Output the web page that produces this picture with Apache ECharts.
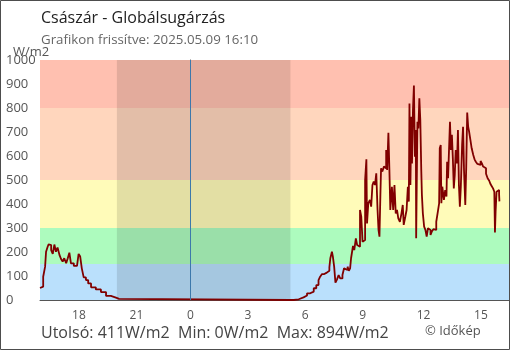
<!DOCTYPE html>
<html>
<head>
<meta charset="utf-8">
<script src="https://cdn.jsdelivr.net/npm/echarts@6/dist/echarts.min.js"></script>
<style>
  html, body { margin: 0; padding: 0; background: #fff; }
  #chart { width: 510px; height: 350px; }
</style>
</head>
<body>
<div id="chart"></div>
<script>
// Globális sugárzás, Császár — utolsó 24 óra (W/m2)
const prevDayTimes = ["16:10","16:16","16:20","16:26","16:29","16:34","16:37","16:40","16:45","16:50",
  "16:55","17:00","17:05","17:11","17:16","17:21","17:26","17:32","17:37","17:42",
  "17:47","17:56","18:06","18:11","18:16","18:21","18:27","18:34","18:41","18:50",
  "19:05","19:21","19:37","19:52","20:08","20:18","20:20"];
const prevDayValues = [50,56,97,139,201,222,232,229,208,192,
  231,201,219,188,171,160,174,153,174,197,
  153,142,146,192,181,132,94,83,69,53,
  44,33,17,10,5,3,0];

const todayTimes = ["05:15","05:25","05:41","05:56","06:07","06:17","06:28","06:36","06:43","06:48",
  "06:54","07:01","07:09","07:17","07:20","07:25","07:28","07:32","07:36","07:41",
  "07:46","07:51","07:58","08:03","08:09","08:14","08:18","08:22","08:25","08:31",
  "08:35","08:40","08:44","08:49","08:53","08:57","09:01","09:06","09:09","09:13",
  "09:15","09:19","09:24","09:28","09:32","09:36","09:40","09:44","09:48","09:51",
  "09:54","09:57","09:59","10:03","10:08","10:12","10:15","10:18","10:22","10:25",
  "10:28","10:33","10:37","10:41","10:45","10:49","10:53","10:58","11:03","11:07",
  "11:10","11:15","11:19","11:23","11:26","11:28","11:31","11:34","11:36","11:39",
  "11:42","11:45","11:48","11:49","11:53","11:56","11:59","12:02","12:05","12:07",
  "12:10","12:14","12:18","12:22","12:26","12:30","12:34","12:38","12:43","12:47",
  "12:52","12:57","13:01","13:03","13:06","13:08","13:11","13:16","13:20","13:24",
  "13:26","13:29","13:33","13:35","13:38","13:41","13:44","13:47","13:50","13:53",
  "13:57","14:00","14:03","14:06","14:09","14:13","14:16","14:19","14:23","14:26",
  "14:29","14:32","14:35","14:39","14:43","14:48","14:52","14:56","15:01","15:06",
  "15:11","15:15","15:19","15:24","15:28","15:33","15:38","15:42","15:46","15:50",
  "15:54","15:56","15:58","16:01","16:05","16:09","16:10"];
const todayValues = [0,3,11,19,28,35,49,62,83,97,
  108,114,122,136,174,201,181,139,72,86,
  104,90,104,132,125,139,122,132,174,225,
  208,257,229,222,375,347,243,250,500,586,
  319,403,417,389,479,493,479,528,375,292,
  264,444,549,535,556,549,625,542,697,549,
  375,472,375,479,361,375,340,326,361,396,
  313,347,375,472,410,819,479,764,569,792,
  894,597,708,257,743,715,840,750,542,438,
  361,306,292,264,299,292,271,285,295,292,
  326,368,403,632,646,403,472,417,458,431,
  576,507,500,743,625,688,590,465,521,625,
  569,708,479,389,472,646,722,542,396,556,
  781,722,701,667,632,604,586,576,567,563,
  579,569,556,549,526,507,497,483,474,465,
  451,281,368,451,458,438,411];

const xTickHours = [-6, -3, 0, 3, 6, 9, 12, 15];

// Háttérsávok (W/m2 tartományok)
const bandLimits = [[0, 150], [150, 300], [300, 500], [500, 800], [800, 1000]];
const bandColors = ['#bae0fc', '#adfbbe', '#fffbb9', '#ffd6bd', '#ffc0b0'];

const nightFrom = "20:11";   // napnyugta (előző nap)
const nightTo = "05:15";     // napkelte

const title = 'Császár - Globálsugárzás';
const subtitle = 'Grafikon frissítve: 2025.05.09 16:10';
const unitText = 'W/m2';
const summaryText = 'Utolsó: 411W/m2  Min: 0W/m2  Max: 894W/m2';
const creditText = '© Időkép';

const toHours = (t) => { const [h, m] = t.split(':').map(Number); return h + m / 60; };

const seriesData = [];
prevDayTimes.forEach((t, i) => seriesData.push([toHours(t) - 24, prevDayValues[i]]));
todayTimes.forEach((t, i) => seriesData.push([toHours(t), todayValues[i]]));

const xMin = toHours("16:10") - 24;
const xMax = toHours("16:40");

const axisColor = '#555';
const font = '"Open Sans", "Noto Sans", sans-serif';

const chart = echarts.init(document.getElementById('chart'), null, { renderer: 'canvas' });

const baseX = { type: 'value', min: xMin, max: xMax, splitLine: { show: false } };
const baseY = { type: 'value', min: 0, max: 1000, interval: 100, splitLine: { show: false } };

chart.setOption({
  animation: false,
  textStyle: { fontFamily: font },
  grid: { left: 40, top: 60, width: 469, height: 240 },
  xAxis: [
    Object.assign({}, baseX, {
      axisLine: { show: true, lineStyle: { color: axisColor, width: 1 } },
      axisTick: { show: true, inside: true, length: 7, customValues: xTickHours, lineStyle: { color: axisColor } },
      axisLabel: {
        show: true, customValues: xTickHours, margin: 10, fontSize: 12, color: '#555',
        fontFamily: font, align: 'left', padding: [0, 0, 0, -3],
        formatter: (v) => String(((Math.round(v) % 24) + 24) % 24)
      }
    }),
    Object.assign({}, baseX, {
      axisLine: { show: false },
      axisTick: { show: true, inside: false, length: 7, customValues: [xMin].concat(xTickHours), lineStyle: { color: axisColor } },
      axisLabel: { show: false }
    })
  ],
  yAxis: [
    Object.assign({}, baseY, {
      axisLine: { show: true, lineStyle: { color: axisColor, width: 1 } },
      axisTick: { show: true, inside: true, length: 6, lineStyle: { color: axisColor } },
      axisLabel: {
        show: true, align: 'left', margin: 34, fontSize: 13, color: '#555', fontFamily: font,
        formatter: (v) => String(v)
      }
    }),
    Object.assign({}, baseY, {
      axisLine: { show: false },
      axisTick: { show: true, inside: false, length: 6, lineStyle: { color: axisColor } },
      axisLabel: { show: false }
    })
  ],
  series: [
    {
      name: 'bands', type: 'line', data: [], z: 1, silent: true,
      markArea: {
        silent: true,
        data: bandLimits.map((b, i) => [
          { yAxis: b[0], itemStyle: { color: bandColors[i] } },
          { yAxis: b[1] }
        ])
      }
    },
    {
      name: 'night', type: 'line', data: [], z: 2, silent: true,
      markArea: {
        silent: true,
        itemStyle: { color: 'rgba(0,0,0,0.11)' },
        data: [[{ xAxis: toHours(nightFrom) - 24 }, { xAxis: toHours(nightTo) }]]
      },
      markLine: {
        silent: true, symbol: 'none', label: { show: false },
        lineStyle: { color: '#3c78ab', width: 1, type: 'solid' },
        data: [{ xAxis: 0 }]
      }
    },
    {
      name: 'Globálsugárzás', type: 'line', data: seriesData, z: 3,
      step: 'end', showSymbol: false, symbol: 'none',
      lineStyle: { color: '#800000', width: 1.8 },
      itemStyle: { color: '#800000' }
    }
  ],
  graphic: [
    { type: 'rect', z: 100, silent: true,
      shape: { x: 0.5, y: 0.5, width: 509, height: 349 },
      style: { fill: 'none', stroke: '#4d4d4d', lineWidth: 1 } },
    { type: 'text', x: 41, y: 18, z: 100,
      style: { text: title, font: '16px ' + font, fill: '#222', verticalAlign: 'middle' } },
    { type: 'text', x: 41, y: 40, z: 100,
      style: { text: subtitle, font: '13.3px ' + font, fill: '#666', verticalAlign: 'middle' } },
    { type: 'text', x: 13, y: 52, z: 100,
      style: { text: unitText, font: '13px ' + font, fill: '#555', verticalAlign: 'middle' } },
    { type: 'text', x: 41, y: 333, z: 100,
      style: { text: summaryText, font: '16px ' + font, fill: '#444', verticalAlign: 'middle' } },
    { type: 'text', x: 425, y: 331, z: 100,
      style: { text: creditText, font: '13px ' + font, fill: '#555', verticalAlign: 'middle' } }
  ]
});
</script>
</body>
</html>
